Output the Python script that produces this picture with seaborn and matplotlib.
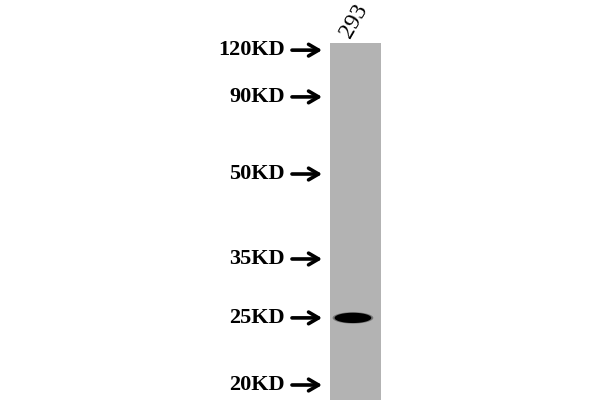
import numpy as np
import pandas as pd
import matplotlib.pyplot as plt
import seaborn as sns
from matplotlib.path import Path

sns.set_theme(style="white")
plt.rcParams['font.family'] = ['Liberation Serif', 'DejaVu Serif']

# ladder markers and their relative migration down the lane (0 = top, 1 = bottom)
markers = ["120KD", "90KD", "50KD", "35KD", "25KD", "20KD"]
migration = [0.02, 0.151, 0.367, 0.605, 0.77, 0.958]

lanes = ["293"]
band_lane = ["293"]
band_migration = [0.77]

fig = plt.figure(figsize=(6, 4), dpi=100)
ax = fig.add_axes([330 / 600, 0, 51 / 600, 357 / 400])
ax.set_facecolor("#b3b3b3")
ax.set_xlim(-0.5, 0.5)
ax.set_ylim(1, 0)
ax.set_xticks([])
ax.set_yticks([])
for s in ax.spines.values():
    s.set_visible(False)

# elongated band marker
t = np.linspace(0, 2 * np.pi, 60)
band_path = Path(np.column_stack([np.cos(t), 0.28 * np.sin(t)]))

df = pd.DataFrame({"lane": band_lane, "mig": band_migration})
df["x"] = -0.05
sns.scatterplot(data=df, x="x", y="mig", marker=band_path, s=860, color="#3a3a3a",
                edgecolor="none", alpha=0.5, ax=ax, legend=False)
sns.scatterplot(data=df, x="x", y="mig", marker=band_path, s=700, color="black",
                edgecolor="none", ax=ax, legend=False)
ax.set_xlabel("")
ax.set_ylabel("")

for lab, m in zip(markers, migration):
    ax.annotate("", xy=(-0.6, m), xytext=(-1.3, m), xycoords="data",
                arrowprops=dict(arrowstyle="->,head_length=0.6,head_width=0.35",
                                lw=2.6, color="black"), annotation_clip=False)
    ax.text(-1.38, m, lab, ha="right", va="center", fontsize=16, fontweight="bold",
            color="black", clip_on=False)

for i, lane in enumerate(lanes):
    fig.text(354 / 600, 1 - 21 / 400, lane, rotation=60, ha="center", va="center",
             fontsize=17, color="black")

fig.savefig("out.png", dpi=100, facecolor="white")
